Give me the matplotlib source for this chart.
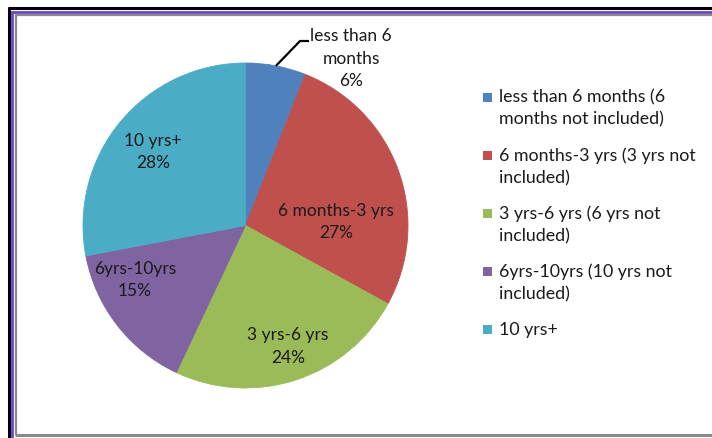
import matplotlib
matplotlib.use("Agg")
import matplotlib.pyplot as plt
import numpy as np
from matplotlib.lines import Line2D
from matplotlib.patches import Rectangle

plt.rcParams['font.family'] = ['Lato', 'DejaVu Sans']

# ---- data ----
short_names = ["less than 6\nmonths", "6 months-3 yrs", "3 yrs-6 yrs", "6yrs-10yrs", "10 yrs+"]
legend_labels = ["less than 6 months (6\nmonths not included)",
                 "6 months-3 yrs (3 yrs not\nincluded)",
                 "3 yrs-6 yrs (6 yrs not\nincluded)",
                 "6yrs-10yrs (10 yrs not\nincluded)",
                 "10 yrs+"]
percentages = [6, 27, 24, 15, 28]
colors = ["#4F81BD", "#C0504D", "#9BBB59", "#8064A2", "#4BACC6"]

# label positions (data units of the pie axes)
label_pos = [(0.649, 1.025), (0.557, 0.022), (0.260, -0.745), (-0.680, -0.335), (-0.569, 0.452)]

W, H = 712, 438
fig = plt.figure(figsize=(W / 100, H / 100), dpi=100)
fig.patch.set_facecolor("white")

def fx(px):
    return px / W

def fy(py):
    return 1 - py / H

# pie axes: centre (245.5, 225.5) px, radius 162.5 px
cx, cy, r = 245.5, 225.5, 162.5
ax = fig.add_axes([fx(cx - r), fy(cy + r), 2 * r / W, 2 * r / H])
wedges, _ = ax.pie(percentages, colors=colors, startangle=90, counterclock=False,
                   radius=1, wedgeprops=dict(linewidth=0.6, edgecolor="none"))
for w, c in zip(wedges, colors):
    w.set_edgecolor(c)
ax.set_xlim(-1, 1)
ax.set_ylim(-1, 1)
ax.set_aspect("equal")
ax.axis("off")

fs = 12.5
ls = 1.5
for name, pct, (lx, ly) in zip(short_names, percentages, label_pos):
    ax.text(lx, ly, f"{name}\n{pct}%", ha="center", va="center", fontsize=fs,
            color="#1a1a1a", linespacing=ls)

# leader line for the small first slice
w0 = wedges[0]
mid = np.deg2rad((w0.theta1 + w0.theta2) / 2)
x0, y0 = np.cos(mid), np.sin(mid)
xe, ye = (300 - cx) / r, (cy - 41) / r
xt = (309 - cx) / r
ax.plot([x0, xe, xt], [y0, ye, ye], color="black", lw=1.6, clip_on=False,
        solid_capstyle="butt")

# legend (manual)
fs_leg = 12.8
for i, (lab, c) in enumerate(zip(legend_labels, colors)):
    ty = 97 + 58 * i
    fig.patches.append(Rectangle((fx(483), fy(ty + 4.5)), 9 / W, 9 / H,
                                 transform=fig.transFigure, facecolor=c,
                                 edgecolor="none", figure=fig))
    fig.text(fx(499), fy(ty - 7.5), lab, ha="left", va="top", fontsize=fs_leg,
             color="#1a1a1a", linespacing=1.45)

# frame lines
def hline(y, x0, x1, color, lw):
    fig.add_artist(Line2D([fx(x0), fx(x1)], [fy(y), fy(y)], transform=fig.transFigure,
                          color=color, lw=lw, solid_capstyle="butt"))

def vline(x, y0, y1, color, lw):
    fig.add_artist(Line2D([fx(x), fx(x)], [fy(y0), fy(y1)], transform=fig.transFigure,
                          color=color, lw=lw, solid_capstyle="butt"))

hline(7.5, 7.5, W, "black", 2.2)
vline(8.5, 6.5, H, "black", 2.2)
hline(11.5, 11, W, "#6A44CC", 2.0)
vline(12, 10.5, H, "#6A44CC", 2.0)
hline(15, 14.5, W, "#8A8A8A", 1.6)
vline(15.5, 14, 435, "#8A8A8A", 1.6)
hline(434.5, 14.5, W, "#8A8A8A", 2.2)

fig.savefig("out.png", dpi=100)
